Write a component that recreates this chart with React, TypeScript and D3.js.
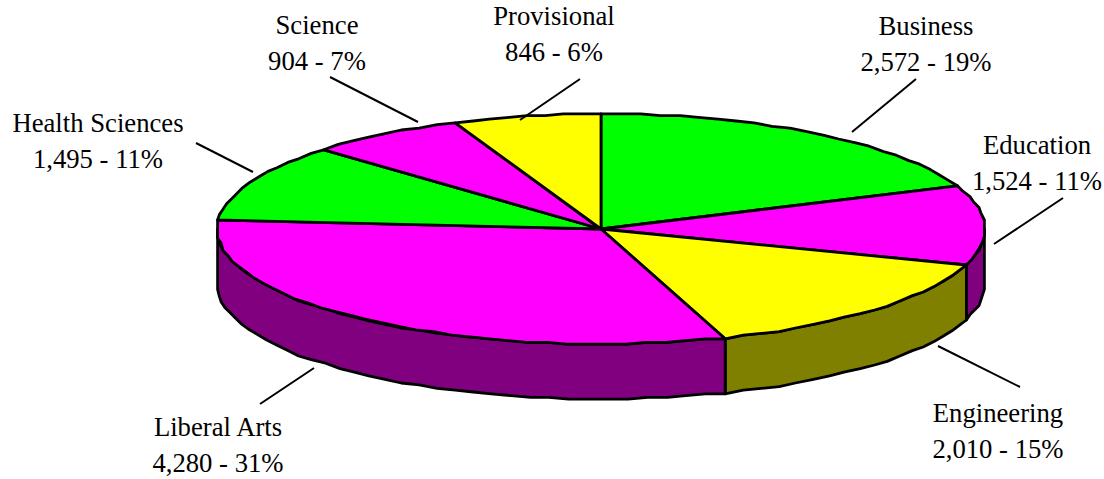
import React from "react";
import * as d3 from "d3";

const categories = ["Business", "Education", "Engineering", "Liberal Arts", "Health Sciences", "Science", "Provisional"];
const values = [2572, 1524, 2010, 4280, 1495, 904, 846];
const percents = ["19%", "11%", "15%", "31%", "11%", "7%", "6%"];
const topColors = ["#00ff00", "#ff00ff", "#ffff00", "#ff00ff", "#00ff00", "#ff00ff", "#ffff00"];
const sideColors = ["#008000", "#800080", "#808000", "#800080", "#008000", "#800080", "#808000"];

// Layout (separate from data)
const labelLayout = [
  { x: 926, y: 35, line: [916, 79, 852, 132] },
  { x: 1037, y: 154, line: [1063, 198, 994, 244] },
  { x: 998, y: 422, line: [938, 346, 1020, 387] },
  { x: 218, y: 436, line: [314, 368, 260, 404] },
  { x: 98, y: 132, line: [196, 143, 253, 172] },
  { x: 317, y: 34, line: [330, 77, 418, 122] },
  { x: 554, y: 25, line: [580, 79, 520, 120] },
];
const CX = 601, CY = 229, RX = 384, RY = 115, DEPTH = 55, GRID = 1.8;

const sx = d3.scaleLinear().domain([-1, 1]).range([CX - RX, CX + RX]);
const sy = d3.scaleLinear().domain([-1, 1]).range([CY - RY, CY + RY]);
const snap = (v: number, o: number) => o + Math.round((v - o) / GRID) * GRID;
const pt = (a: number, dy = 0): [number, number] => [snap(sx(Math.sin(a)), CX), snap(sy(-Math.cos(a)), CY) + dy];
const arcs = d3.pie<number>().sort(null).startAngle(0).endAngle(Math.PI * 2)(values);
const rim = (a0: number, a1: number, dy = 0) => {
  const n = Math.max(2, Math.ceil((a1 - a0) / (Math.PI / 60)));
  return d3.range(n + 1).map((i) => pt(a0 + ((a1 - a0) * i) / n, dy));
};
const line = d3.line();

export default function App() {
  const walls = arcs.map((d, i) => {
    const a0 = Math.max(d.startAngle, Math.PI / 2);
    const a1 = Math.min(d.endAngle, (Math.PI * 3) / 2);
    if (a1 <= a0) return null;
    const top = rim(a0, a1);
    const bottom = rim(a0, a1, DEPTH).reverse();
    return <path key={i} d={line([...top, ...bottom])! + "Z"} fill={sideColors[i]} stroke="#000" strokeWidth={2.8} strokeLinejoin="round" />;
  });
  return (
    <svg width={1104} height={479} style={{ position: "absolute", left: 0, top: 0, background: "#fff" }}>
      {walls}
      {arcs.map((d, i) => (
        <path key={i} d={line([[CX, CY], ...rim(d.startAngle, d.endAngle)])! + "Z"} fill={topColors[i]} stroke="#000" strokeWidth={2.8} strokeLinejoin="round" />
      ))}
      {categories.map((c, i) => {
        const l = labelLayout[i];
        return (
          <g key={c}>
            <line x1={l.line[0]} y1={l.line[1]} x2={l.line[2]} y2={l.line[3]} stroke="#000" strokeWidth={2} />
            <text x={l.x} y={l.y} textAnchor="middle" fontFamily="'Liberation Serif'" fontSize={26.7} fill="#000">{c}</text>
            <text x={l.x} y={l.y + 35.5} textAnchor="middle" fontFamily="'Liberation Serif'" fontSize={26.7} fill="#000">
              {d3.format(",")(values[i])} - {percents[i]}
            </text>
          </g>
        );
      })}
    </svg>
  );
}
